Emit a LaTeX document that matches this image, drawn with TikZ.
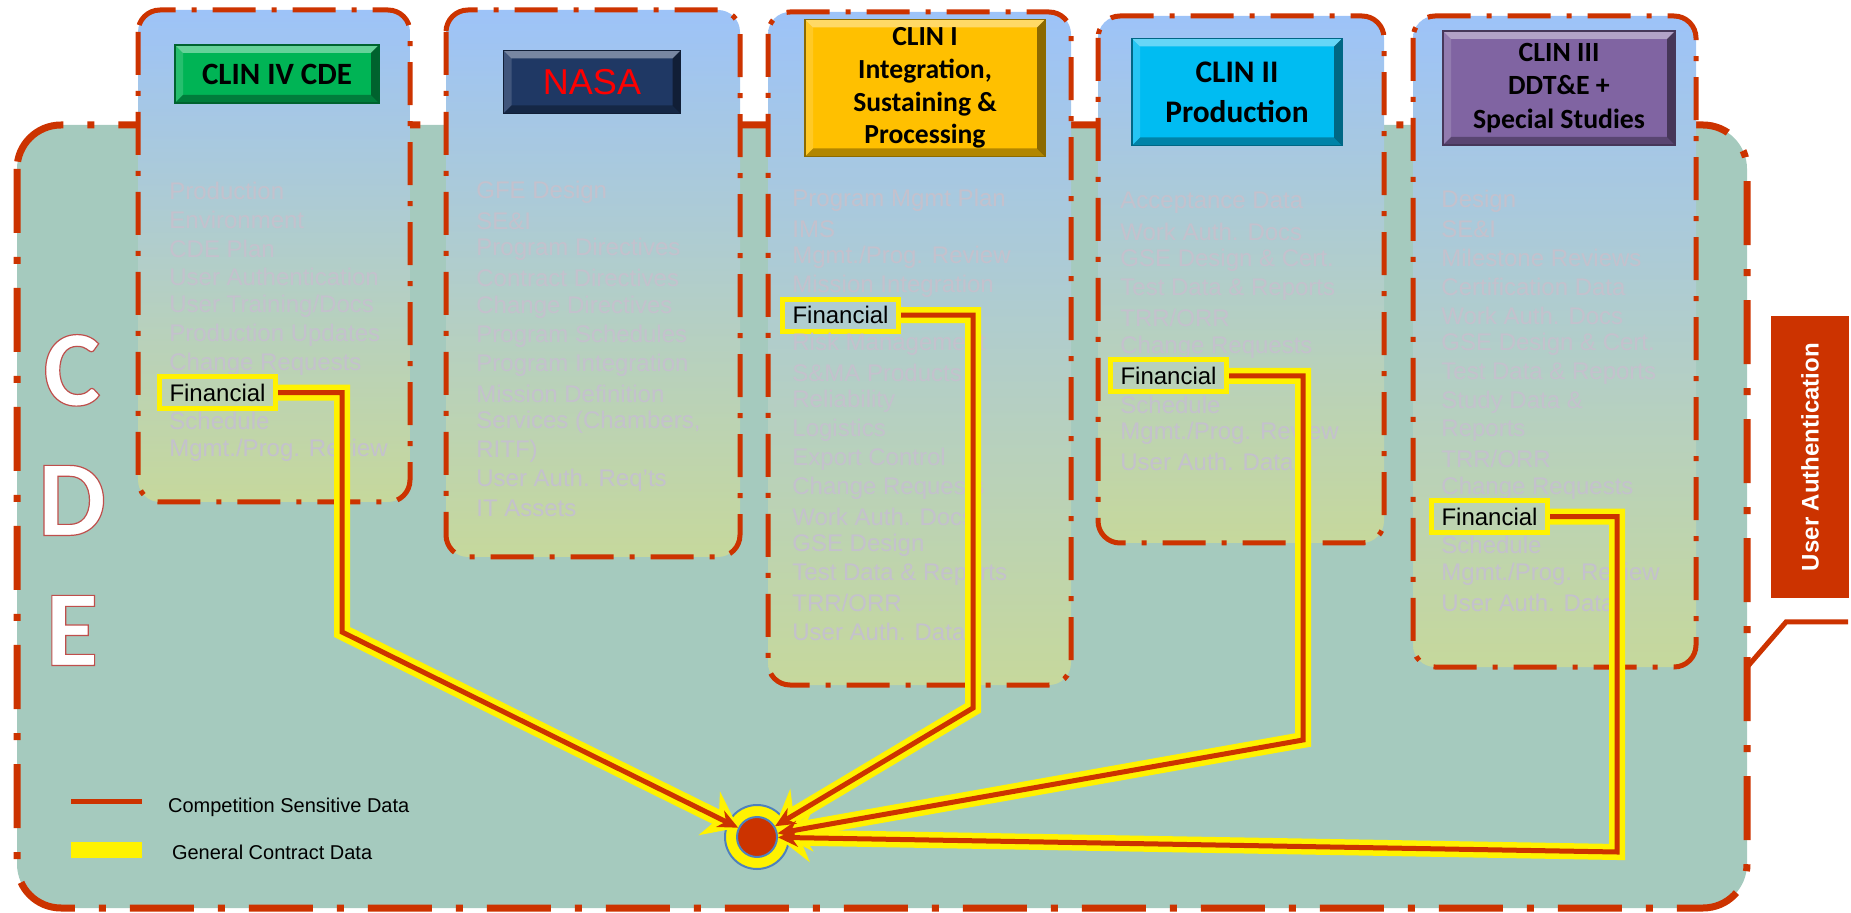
\documentclass[tikz,border=0pt]{standalone}
\usepackage{fontspec}
\setmainfont{Liberation Sans}
\newfontfamily\calibri{Carlito}
\usetikzlibrary{arrows.meta}
\definecolor{cdered}{RGB}{204,51,0}
\definecolor{cdegreen}{RGB}{165,202,190}
\definecolor{boxtop}{RGB}{157,195,248}
\definecolor{boxbot}{RGB}{198,216,156}
\definecolor{faint}{RGB}{196,193,205}
\definecolor{clingreen}{RGB}{0,180,85}
\definecolor{nasablue}{RGB}{31,56,100}
\definecolor{clingold}{RGB}{255,192,0}
\definecolor{clincyan}{RGB}{0,188,242}
\definecolor{clinpurple}{RGB}{128,100,162}
\definecolor{hubblue}{RGB}{79,129,189}
\newcommand{\outlined}[1]{\special{pdf:literal direct 2 Tr 0.6 w 0.75 0.31 0.30 RG}#1\special{pdf:literal direct 0 Tr}}

\begin{document}
\begin{tikzpicture}[x=0.5pt,y=-0.5pt,>=stealth,
    cdeframe/.style={draw=cdered,fill=cdegreen,line width=3.5pt,rounded corners=22pt,dash pattern=on 32pt off 12pt on 3.5pt off 12pt},
    clinbox/.style={draw=cdered,top color=boxtop,bottom color=boxbot,line width=2.5pt,rounded corners=11pt,dash pattern=on 21.5pt off 8pt on 2.5pt off 8pt},
    hdr/.style={draw=#1!55!black,fill=#1,line width=0.8pt,align=center,inner sep=0pt,
      path picture={
        \coordinate (nw) at (path picture bounding box.north west); \coordinate (ne) at (path picture bounding box.north east);
        \coordinate (sw) at (path picture bounding box.south west); \coordinate (se) at (path picture bounding box.south east);
        \fill[white,opacity=0.4] (nw) -- (ne) -- ([shift={(-4pt,-4pt)}]ne) -- ([shift={(4pt,-4pt)}]nw) -- cycle;
        \fill[white,opacity=0.15] (nw) -- (sw) -- ([shift={(4pt,4pt)}]sw) -- ([shift={(4pt,-4pt)}]nw) -- cycle;
        \fill[black,opacity=0.3] (sw) -- (se) -- ([shift={(-4pt,4pt)}]se) -- ([shift={(4pt,4pt)}]sw) -- cycle;
        \fill[black,opacity=0.45] (ne) -- (se) -- ([shift={(-4pt,4pt)}]se) -- ([shift={(-4pt,-4pt)}]ne) -- cycle;}},
    item/.style={anchor=west,inner sep=0pt,text=faint,font=\fontsize{12}{14}\selectfont},
    fin/.style={anchor=west,draw=yellow,line width=2.5pt,inner xsep=5pt,inner ysep=0pt,minimum height=16pt,font=\fontsize{12}{14}\selectfont},
    gcd/.style={yellow,line width=8pt,-{Stealth[length=16pt,width=24pt]}},
    csd/.style={cdered,line width=2.5pt,-{Stealth[length=10pt,width=9pt]}}]
  \useasboundingbox (0,0) rectangle (1851,913);
  \draw[cdeframe] (17,125) rectangle (1747,908);
  \node[text=white,font=\calibri\bfseries\fontsize{54}{65}\selectfont,align=center] (cde) at (72,500) {\outlined{C}\\\outlined{D}\\\outlined{E}};

  % columns
  \draw[clinbox] (138,10) rectangle (410,502);
  \draw[clinbox] (446,10) rectangle (740,557);
  \draw[clinbox] (768,12) rectangle (1071,685);
  \draw[clinbox] (1098,16) rectangle (1384,543);
  \draw[clinbox] (1413,16) rectangle (1696,667);

  \node[hdr=clingreen,minimum width=102pt,minimum height=29pt,font=\calibri\bfseries\fontsize{15.5}{18}\selectfont] (h-iv) at (277,74) {CLIN IV CDE};
  \node[hdr=nasablue,text=red,minimum width=88.5pt,minimum height=31.5pt,font=\fontsize{18}{20}\selectfont] (h-nasa) at (592,82) {NASA};
  \node[hdr=clingold,minimum width=120pt,minimum height=68.5pt,font=\calibri\bfseries\fontsize{13.8}{16.4}\selectfont] (h-i) at (925,88) {CLIN I\\Integration,\\Sustaining \&\\Processing};
  \node[hdr=clincyan,minimum width=105pt,minimum height=53.5pt,font=\calibri\bfseries\fontsize{15.7}{20}\selectfont] (h-ii) at (1237,92) {CLIN II\\Production};
  \node[hdr=clinpurple,minimum width=116pt,minimum height=57pt,font=\calibri\bfseries\fontsize{13.9}{16.8}\selectfont] (h-iii) at (1559,88) {CLIN III\\DDT\&E +\\Special Studies};

  % CLIN IV
  \foreach \t [count=\i from 0] in {Production, Environment, CDE Plan, User Authentication, User Training/Docs, Production Updates, Change Requests}
    \node[item] (iv-\i) at (169,{191+28.8*\i}) {\t};
  \node[fin] (fin-iv) at (157,{191+28.8*7}) {Financial};
  \foreach \t [count=\i from 8] in {Schedule, Mgmt./Prog. Review}
    \node[item] (iv-\i) at (169,{191+28.8*\i}) {\t};
  % NASA
  \foreach \t [count=\i from 0] in {GFE Design, SE\&I, Program Directives, Contract Directives, Change Directives, Program Schedules, Program Integration, Mission Definition, {Services (Chambers,}, RITF), User Auth. Req'ts, IT Assets}
    \node[item] (nasa-\i) at (476,{192+28.8*\i}) {\t};
  % CLIN I
  \foreach \t [count=\i from 0] in {Program Mgmt Plan, IMS, Mgmt./Prog. Review, Mission Integration}
    \node[item] (i-\i) at (792,{200+28.8*\i}) {\t};
  \node[fin] (fin-i) at (780,{200+28.8*4}) {Financial};
  \foreach \t [count=\i from 5] in {Risk Management, S\&MA Products, Reliability, Logistics, Export Control, Change Requests, Work Auth. Docs, GSE Design, Test Data \& Reports, TRR/ORR, User Auth. Data}
    \node[item] (i-\i) at (792,{200+28.8*\i}) {\t};
  % CLIN II
  \foreach \t [count=\i from 0] in {Acceptance Data, Work Auth. Docs, GSE Design \& Cert., Test Data \& Reports, TRR/ORR, Change Requests}
    \node[item] (ii-\i) at (1120,{203+28.8*\i}) {\t};
  \node[fin] (fin-ii) at (1108,{203+28.8*6}) {Financial};
  \foreach \t [count=\i from 7] in {Schedule, Mgmt./Prog. Review, User Auth. Data}
    \node[item] (ii-\i) at (1120,{203+28.8*\i}) {\t};
  % CLIN III
  \foreach \t [count=\i from 0] in {Design, SE\&I, Milestone Reviews, Certification Data, Work Auth. Docs, GSE Design \& Cert., Test Data \& Reports, Study Data \&, Reports, TRR/ORR, Change Requests}
    \node[item] (iii-\i) at (1441,{201+28.7*\i}) {\t};
  \node[fin] (fin-iii) at (1429,{201+28.7*11}) {Financial};
  \foreach \t [count=\i from 12] in {Schedule, Mgmt./Prog. Review, User Auth. Data}
    \node[item] (iii-\i) at (1441,{201+28.7*\i}) {\t};

  % hub and feeds
  \node[circle,fill=yellow,draw=hubblue,line width=1pt,minimum size=32pt] (ring) at (757,837) {};
  \node[circle,fill=cdered,draw=hubblue,line width=1pt,minimum size=20pt] (hub) at (ring) {};
  \coordinate (k-iv) at (342,632); \coordinate (k-i) at (973,708);
  \coordinate (k-ii) at (1303,740); \coordinate (k-iii) at (1617,852);
  \foreach \c in {iv,i,ii,iii} \draw[gcd] (fin-\c.east) -| (k-\c) -- (hub);
  \foreach \c in {iv,i,ii,iii} \draw[csd] (fin-\c.east) -| (k-\c) -- (hub);

  % legend
  \node[anchor=west,font=\fontsize{10}{12}\selectfont] (leg-csd) at (161,807) {Competition Sensitive Data};
  \node[anchor=west,font=\fontsize{10}{12}\selectfont] (leg-gcd) at (165,852) {General Contract Data};
  \draw[cdered,line width=2.5pt] (71,801) -- (142,801);
  \fill[yellow] (71,842) rectangle (142,858);

  % user authentication callout
  \node[fill=cdered,text=white,rotate=90,minimum width=141pt,minimum height=39pt,font=\bfseries\fontsize{12}{14}\selectfont] (ua) at (1810,457) {User Authentication};
  \coordinate (ua-tail) at (1748,666);
  \draw[cdered,line width=2.5pt] (1848,622) -- (1786,622) -- (ua-tail);
\end{tikzpicture}
\end{document}
